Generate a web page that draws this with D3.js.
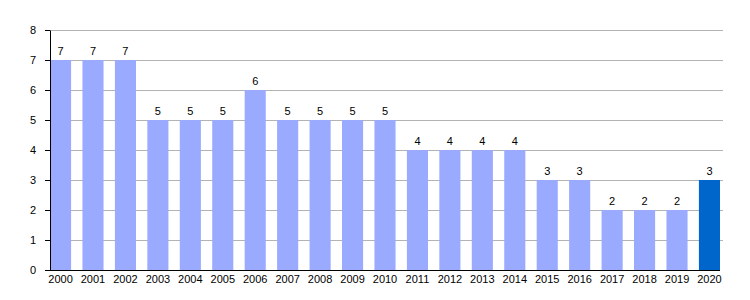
<!DOCTYPE html>
<html>
<head>
<meta charset="utf-8">
<script src="https://cdn.jsdelivr.net/npm/d3@7"></script>
<style>
  body { margin: 0; background: #fff; }
  text { font-family: "Liberation Sans", Arial, sans-serif; font-size: 11px; fill: #000; }
</style>
</head>
<body>
<div id="chart-area"></div>
<script>
const MARGIN = { LEFT: 50, RIGHT: 30, TOP: 30, BOTTOM: 30 }
const WIDTH = 750 - MARGIN.LEFT - MARGIN.RIGHT
const HEIGHT = 300 - MARGIN.TOP - MARGIN.BOTTOM

const years = ["2000", "2001", "2002", "2003", "2004", "2005", "2006", "2007", "2008", "2009",
  "2010", "2011", "2012", "2013", "2014", "2015", "2016", "2017", "2018", "2019", "2020"]
const counts = [7, 7, 7, 5, 5, 5, 6, 5, 5, 5, 5, 4, 4, 4, 4, 3, 3, 2, 2, 2, 3]
const yTicks = [0, 1, 2, 3, 4, 5, 6, 7, 8]

const svg = d3.select("#chart-area")
  .append("svg")
  .attr("width", WIDTH + MARGIN.LEFT + MARGIN.RIGHT)
  .attr("height", HEIGHT + MARGIN.TOP + MARGIN.BOTTOM)

const g = svg.append("g")
  .attr("transform", `translate(${MARGIN.LEFT}, ${MARGIN.TOP})`)

const x = d3.scaleBand()
  .domain(years)
  .range([0, WIDTH])
  .paddingInner(0.35)
  .paddingOuter(0)

const y = d3.scaleLinear()
  .domain([0, 8])
  .range([HEIGHT, 0])

// grid lines
g.append("g")
  .selectAll("line")
  .data(yTicks.slice(1))
  .enter()
  .append("line")
  .attr("x1", 0)
  .attr("x2", WIDTH + 3)
  .attr("y1", d => Math.round(y(d)) + 0.5)
  .attr("y2", d => Math.round(y(d)) + 0.5)
  .attr("stroke", "#b3b3b3")

// bars
g.selectAll("rect")
  .data(counts)
  .enter()
  .append("rect")
  .attr("x", (d, i) => x(years[i]))
  .attr("y", d => y(d))
  .attr("width", x.bandwidth())
  .attr("height", d => HEIGHT - y(d))
  .attr("fill", (d, i) => i === counts.length - 1 ? "#0066cc" : "#99aaff")

// value labels
g.selectAll(".val")
  .data(counts)
  .enter()
  .append("text")
  .attr("class", "val")
  .attr("x", (d, i) => x(years[i]) + x.bandwidth() / 2)
  .attr("y", d => y(d) - 5)
  .attr("text-anchor", "middle")
  .text(d => d)

// y axis
const yAxis = g.append("g")
  .call(d3.axisLeft(y).tickValues(yTicks).tickSize(5).tickPadding(9).tickSizeOuter(0))
yAxis.select(".domain").attr("stroke", "#000")
yAxis.selectAll("text").style("font-size", "11px").style("font-family", "Liberation Sans, Arial, sans-serif")

// x axis
const xAxis = g.append("g")
  .attr("transform", `translate(0, ${HEIGHT})`)
  .call(d3.axisBottom(x).tickSize(0).tickPadding(5).tickSizeOuter(0))
xAxis.select(".domain").attr("stroke", "#000").attr("d", `M0,0.5H${WIDTH}`)
xAxis.selectAll("text").style("font-size", "11px").style("font-family", "Liberation Sans, Arial, sans-serif")
</script>
</body>
</html>
